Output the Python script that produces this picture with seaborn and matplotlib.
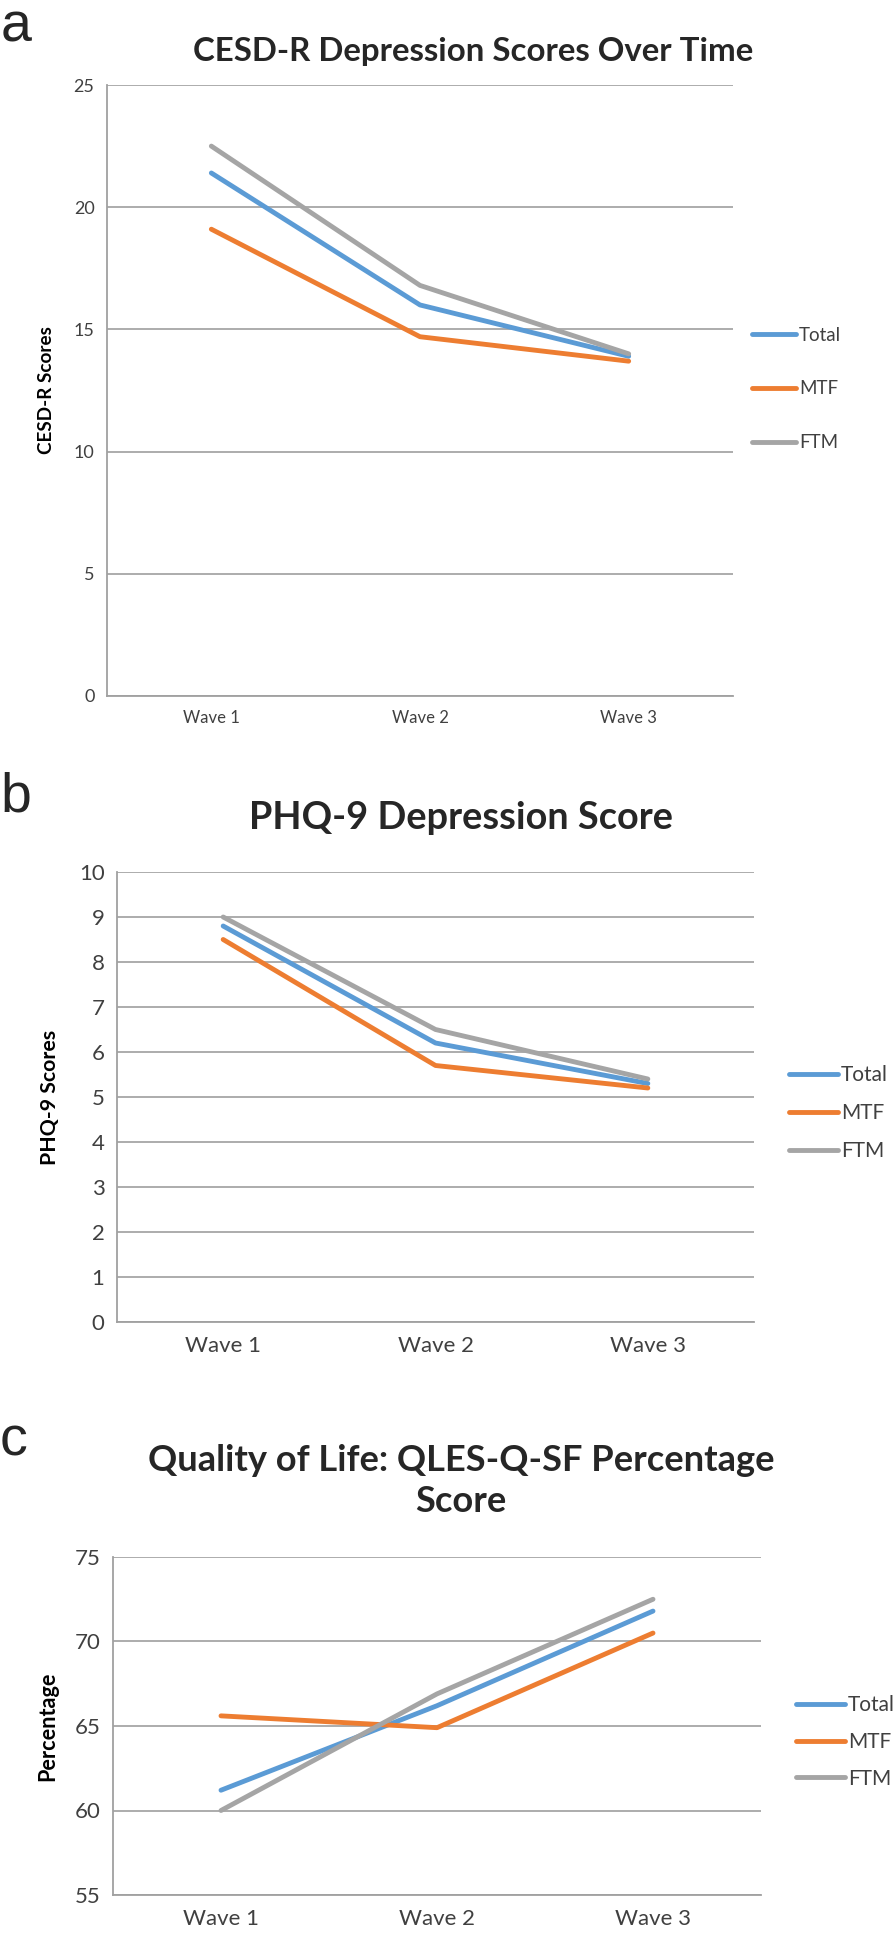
import pandas as pd
import seaborn as sns
import matplotlib
matplotlib.use("Agg")
import matplotlib.pyplot as plt

# data
waves = ["Wave 1", "Wave 2", "Wave 3"]
groups = ["Total", "MTF", "FTM"]

cesd_total = [21.4, 16.0, 13.9]
cesd_mtf = [19.1, 14.7, 13.7]
cesd_ftm = [22.5, 16.8, 14.0]

phq_total = [8.8, 6.2, 5.3]
phq_mtf = [8.5, 5.7, 5.2]
phq_ftm = [9.0, 6.5, 5.4]

qles_total = [61.2, 66.2, 71.8]
qles_mtf = [65.6, 64.9, 70.5]
qles_ftm = [60.0, 66.9, 72.5]

palette = {"Total": "#5B9BD5", "MTF": "#ED7D31", "FTM": "#A5A5A5"}

sns.set_style("white")
plt.rcParams['font.family'] = ['Lato', 'DejaVu Sans']

W, H = 894, 1934
fig = plt.figure(figsize=(W / 100, H / 100), dpi=100)


def long_df(total, mtf, ftm):
    rows = []
    for g, vals in zip(groups, [total, mtf, ftm]):
        for w, v in zip(waves, vals):
            rows.append({"wave": w, "group": g, "score": v})
    return pd.DataFrame(rows)


def panel(box, df, ylim, ystep, ylabel, tick_fs, wave_fs, lab_fs, leg_fs,
          leg_xy, leg_space, lab_right):
    l, t, r, b = box
    ax = fig.add_axes([l / W, 1 - b / H, (r - l) / W, (b - t) / H])
    sns.lineplot(data=df, x="wave", y="score", hue="group", hue_order=groups,
                 palette=palette, linewidth=3.5, ax=ax, sort=False)
    ax.set_xlim(-0.5, 2.5)
    ax.set_ylim(*ylim)
    ax.set_yticks(range(ylim[0], ylim[1] + 1, ystep))
    ax.set_xticks([-0.5, 0.5, 1.5, 2.5], minor=False)
    ax.set_xticklabels([])
    ax.set_xticks([0, 1, 2], minor=True)
    ax.set_xticklabels(waves, minor=True)
    ax.tick_params(axis="x", which="minor", length=0, labelsize=wave_fs,
                   labelcolor="#404040", pad=10)
    ax.tick_params(axis="x", which="major", length=6, color="#A0A0A0", width=1.2)
    ax.tick_params(axis="y", length=5, color="#A0A0A0", width=1.2,
                   labelsize=tick_fs, labelcolor="#404040", pad=4)
    ax.grid(axis="y", color="#A6A6A6", linewidth=1.3)
    ax.set_axisbelow(True)
    for s in ["top", "right"]:
        ax.spines[s].set_visible(False)
    for s in ["left", "bottom"]:
        ax.spines[s].set_color("#A0A0A0")
        ax.spines[s].set_linewidth(1.3)
    ax.set_xlabel("")
    ax.set_ylabel(ylabel, fontsize=lab_fs, fontweight="bold", color="black")
    ax.yaxis.set_label_coords(-(l - lab_right) / (r - l), 0.5)
    ax.legend(loc="center left", bbox_to_anchor=(leg_xy[0] / W, 1 - leg_xy[1] / H),
              bbox_transform=fig.transFigure, frameon=False, fontsize=leg_fs,
              handlelength=2.35, handletextpad=0.15, labelspacing=leg_space,
              labelcolor="#404040", borderpad=0, borderaxespad=0)
    return ax


# a: CESD-R
ax1 = panel((107, 85, 733, 696), long_df(cesd_total, cesd_mtf, cesd_ftm),
            (0, 25), 5, "CESD-R Scores", 13, 12, 11, 13.5, (752, 389), 1.95, 55)
t1 = fig.text(473 / W, 1 - 51 / H, "CESD-R Depression Scores Over Time", ha="center",
              va="center", fontsize=24, fontweight="bold")
fig.text(1 / W, 1 - 41 / H, "a", fontsize=40, family="Liberation Sans", va="baseline")

# b: PHQ-9
ax2 = panel((117, 872, 754, 1322), long_df(phq_total, phq_mtf, phq_ftm),
            (0, 10), 1, "PHQ-9 Scores", 16, 16, 14, 15, (789, 1113), 0.87, 60)
t2 = fig.text(461 / W, 1 - 818 / H, "PHQ-9 Depression Score", ha="center",
              va="center", fontsize=27, fontweight="bold")
fig.text(0, 1 - 812 / H, "b", fontsize=40, family="Liberation Sans", va="baseline")

# c: QLES-Q-SF
ax3 = panel((113, 1557, 761, 1895), long_df(qles_total, qles_mtf, qles_ftm),
            (55, 75), 5, "Percentage", 16, 16, 14, 15, (796, 1742), 0.8, 58)
t3 = fig.text(461 / W, 1 - 1481 / H, "Quality of Life: QLES-Q-SF Percentage\nScore",
              ha="center", va="center", fontsize=26, fontweight="bold", linespacing=1.3)
fig.text(0, 1 - 1455 / H, "c", fontsize=40, family="Liberation Sans", va="baseline")

# size the y labels / titles to the lengths measured on the reference (px)
fig.canvas.draw()
rend = fig.canvas.get_renderer()
for txt, target, vertical in [(ax1.yaxis.label, 127, True),
                              (ax2.yaxis.label, 135, True),
                              (ax3.yaxis.label, 110, True),
                              (t1, 562, False), (t2, 423, False), (t3, 627, False)]:
    bb = txt.get_window_extent(rend)
    size = bb.height if vertical else bb.width
    txt.set_fontsize(txt.get_fontsize() * target / size)

fig.savefig("out.png", dpi=100)
